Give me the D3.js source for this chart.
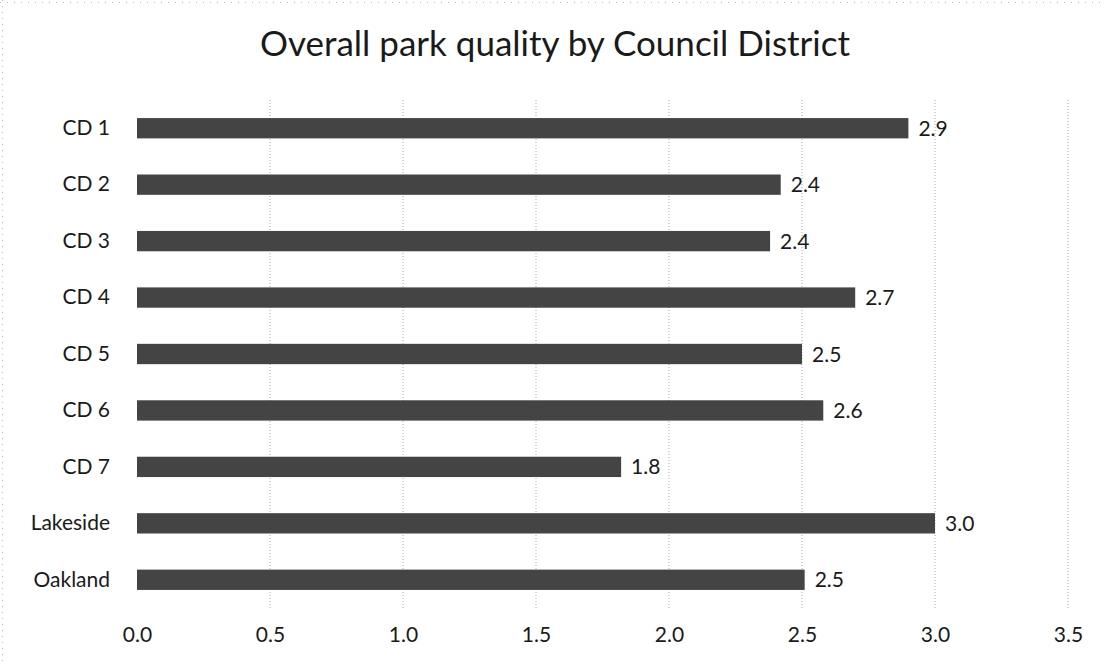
<!DOCTYPE html>
<html><head><meta charset="utf-8">
<script src="https://cdn.jsdelivr.net/npm/d3@7"></script>
<style>body{margin:0;background:#fff}svg{display:block}</style>
</head><body>
<svg id="chart" width="1104" height="666"></svg>
<script>
const title = "Overall park quality by Council District";
const categories = ["CD 1","CD 2","CD 3","CD 4","CD 5","CD 6","CD 7","Lakeside","Oakland"];
const values = [2.90, 2.42, 2.38, 2.70, 2.50, 2.58, 1.82, 3.00, 2.51];
const tickValues = [0,0.5,1,1.5,2,2.5,3,3.5];

const svg = d3.select("#chart");
const font = "Lato, 'Open Sans', sans-serif";
const x = d3.scaleLinear().domain([0,3.5]).range([137,1068]);
const y = d3.scaleBand().domain(categories).range([100,608]).paddingInner(0.64).paddingOuter(0.32);

// faint scan borders
svg.append("line").attr("x1",0).attr("x2",1104).attr("y1",2.5).attr("y2",2.5)
  .attr("stroke","#bbb").attr("stroke-dasharray","1,6");
svg.append("line").attr("x1",2.5).attr("x2",2.5).attr("y1",0).attr("y2",666)
  .attr("stroke","#bbb").attr("stroke-dasharray","1,5");

// gridlines
svg.append("g").selectAll("line").data(tickValues.filter(d=>d>0)).join("line")
  .attr("x1",d=>x(d)).attr("x2",d=>x(d)).attr("y1",100).attr("y2",608)
  .attr("stroke","#a8a8a8").attr("stroke-width",1).attr("stroke-dasharray","1,2");

// bars
svg.append("g").selectAll("rect").data(values).join("rect")
  .attr("x",x(0)).attr("y",(d,i)=>y(categories[i]))
  .attr("width",d=>x(d)-x(0)).attr("height",y.bandwidth())
  .attr("fill","#444");

// value labels
svg.append("g").selectAll("text").data(values).join("text")
  .attr("x",d=>x(d)+10).attr("y",(d,i)=>y(categories[i])+y.bandwidth()/2)
  .attr("dy","0.36em").attr("font-family",font).attr("font-size",21).attr("fill","#1a1a1a")
  .text(d=>d3.format(".1f")(d));

// y axis
const yAxis = d3.axisLeft(y).tickSize(0).tickPadding(0);
const gy = svg.append("g").attr("transform","translate(110,0)").call(yAxis);
gy.select(".domain").remove();
gy.selectAll("text").attr("font-family",font).attr("font-size",21).attr("fill","#1a1a1a");

// x axis
const xAxis = d3.axisBottom(x).tickValues(tickValues).tickFormat(d3.format(".1f")).tickSize(0).tickPadding(0);
const gx = svg.append("g").attr("transform","translate(0,627)").call(xAxis);
gx.select(".domain").remove();
gx.selectAll("text").attr("font-family",font).attr("font-size",21).attr("fill","#1a1a1a");

// title
svg.append("text").attr("x",555).attr("y",56).attr("text-anchor","middle")
  .attr("font-family",font).attr("font-size",35).attr("fill","#1a1a1a").text(title);
</script>
</body></html>
